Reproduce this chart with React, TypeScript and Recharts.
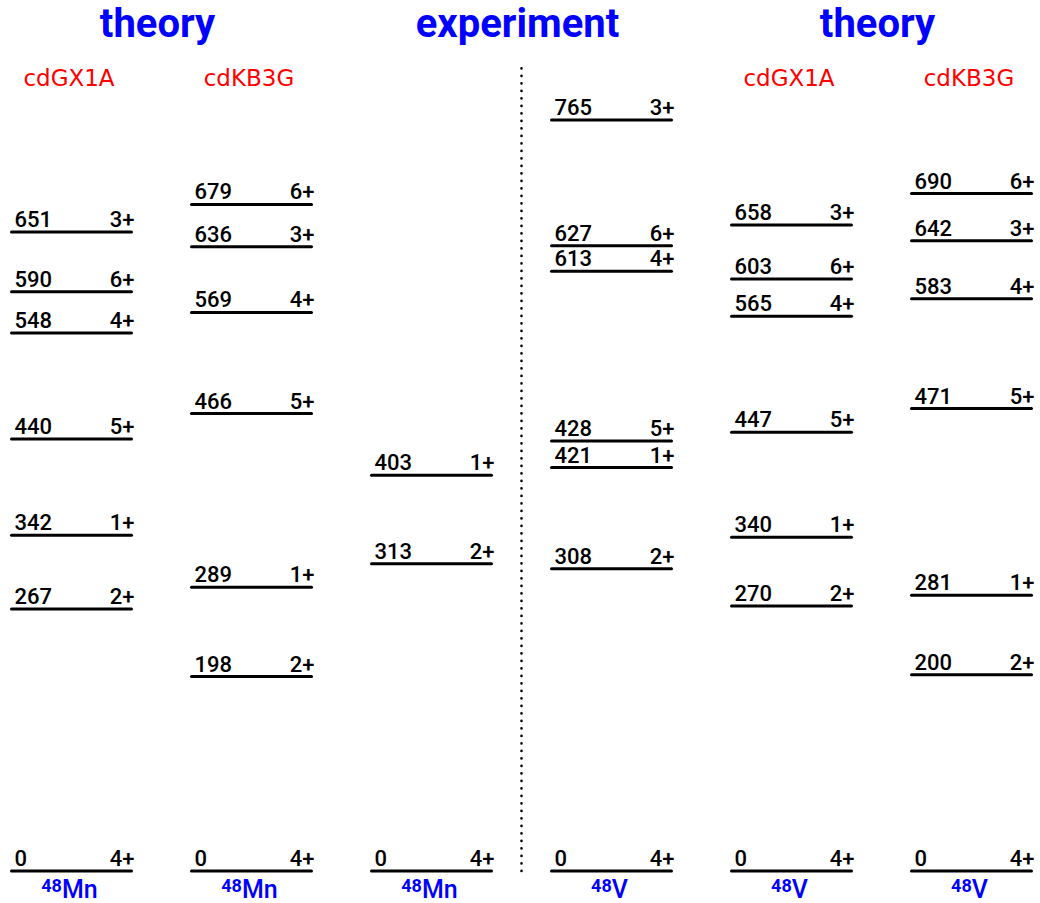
import { ScatterChart, Scatter, XAxis, YAxis, ReferenceLine } from "recharts"

// column index 0..5, left to right
const columns = [0, 1, 2, 3, 4, 5]
const isotopeMass = ["48", "48", "48", "48", "48", "48"]
const isotopeName = ["Mn", "Mn", "Mn", "V", "V", "V"]
const modelCols = [0, 1, 4, 5]
const modelNames = ["cdGX1A", "cdKB3G", "cdGX1A", "cdKB3G"]

const groupPos = [0.5, 2.5, 4.5]
const groupTitles = ["theory", "experiment", "theory"]

// 48Mn, cdGX1A
const mnGxEnergy = [0, 267, 342, 440, 548, 590, 651]
const mnGxSpin = ["4+", "2+", "1+", "5+", "4+", "6+", "3+"]
// 48Mn, cdKB3G
const mnKbEnergy = [0, 198, 289, 466, 569, 636, 679]
const mnKbSpin = ["4+", "2+", "1+", "5+", "4+", "3+", "6+"]
// 48Mn, experiment
const mnExpEnergy = [0, 313, 403]
const mnExpSpin = ["4+", "2+", "1+"]
// 48V, experiment (close pairs are drawn pushed apart)
const vExpEnergy = [0, 308, 421, 428, 613, 627, 765]
const vExpDrawn = [0, 308, 411, 438, 611, 637, 765]
const vExpSpin = ["4+", "2+", "1+", "5+", "4+", "6+", "3+"]
// 48V, cdGX1A
const vGxEnergy = [0, 270, 340, 447, 565, 603, 658]
const vGxSpin = ["4+", "2+", "1+", "5+", "4+", "6+", "3+"]
// 48V, cdKB3G
const vKbEnergy = [0, 200, 281, 471, 583, 642, 690]
const vKbSpin = ["4+", "2+", "1+", "5+", "4+", "3+", "6+"]

const schemes = [
  { energy: mnGxEnergy, drawn: mnGxEnergy, spin: mnGxSpin },
  { energy: mnKbEnergy, drawn: mnKbEnergy, spin: mnKbSpin },
  { energy: mnExpEnergy, drawn: mnExpEnergy, spin: mnExpSpin },
  { energy: vExpEnergy, drawn: vExpDrawn, spin: vExpSpin },
  { energy: vGxEnergy, drawn: vGxEnergy, spin: vGxSpin },
  { energy: vKbEnergy, drawn: vKbEnergy, spin: vKbSpin },
]

const levels = schemes.flatMap((s, col) =>
  s.energy.map((e, i) => ({ col, y: s.drawn[i], energy: e, spin: s.spin[i] }))
)

const FONT = "Roboto, 'DejaVu Sans', sans-serif"

function Level(props: any) {
  const { cx, cy, payload } = props
  if (cx == null || cy == null) return null
  return (
    <g>
      <line x1={cx - 60} x2={cx + 60} y1={cy} y2={cy} stroke="#000" strokeWidth={3} strokeLinecap="round" />
      <text x={cx - 57} y={cy - 5} fontFamily={FONT} fontSize={22} fontWeight={500} fill="#000">
        {payload.energy}
      </text>
      <text x={cx + 63} y={cy - 5} textAnchor="end" fontFamily={FONT} fontSize={22} fontWeight={500} fill="#000">
        {payload.spin}
      </text>
    </g>
  )
}

function TitleLabel(props: any) {
  const { viewBox, text } = props
  if (!viewBox) return null
  return (
    <text x={viewBox.x - 4} y={viewBox.y - 29} textAnchor="middle" fontFamily={FONT} fontSize={40} fontWeight={700} fill="#0000ff">
      {text}
    </text>
  )
}

function ModelLabel(props: any) {
  const { viewBox, text } = props
  if (!viewBox) return null
  return (
    <text x={viewBox.x - 2.5} y={viewBox.y + 20} textAnchor="middle" fontFamily="'DejaVu Sans', sans-serif" fontSize={23} fill="#ff0000">
      {text}
    </text>
  )
}

function BottomTick(props: any) {
  const { x, y, payload } = props
  const v = payload.value as number
  return (
    <text x={x - 2} y={y + 25} textAnchor="middle" fontFamily={FONT} fill="#0000ff">
      <tspan fontSize={18} fontWeight={700} dy={-6}>{isotopeMass[v]}</tspan>
      <tspan fontSize={25} fontWeight={500} dy={6}>{isotopeName[v]}</tspan>
    </text>
  )
}

export default function App() {
  return (
    <div style={{ position: "absolute", left: 0, top: 0, background: "#fff" }}>
      <ScatterChart width={1040} height={903} margin={{ top: 66, right: 68.5, left: 71.5, bottom: 0 }}>
        <XAxis
          type="number"
          dataKey="col"
          domain={[0, 5]}
          ticks={columns}
          interval={0}
          height={32}
          axisLine={false}
          tickLine={false}
          tickSize={0}
          tick={(p: any) => <BottomTick {...p} />}
        />
        <YAxis type="number" dataKey="y" domain={[0, 820]} hide />
        {groupPos.map((pos, i) => (
          <ReferenceLine key={"t" + i} x={pos} stroke="none" label={<TitleLabel text={groupTitles[i]} />} />
        ))}
        {modelCols.map((c, i) => (
          <ReferenceLine key={"m" + i} x={c} stroke="none" label={<ModelLabel text={modelNames[i]} />} />
        ))}
        <ReferenceLine
          x={2.5}
          stroke="#000"
          strokeWidth={2.6}
          strokeDasharray="0.1 7.4"
          strokeLinecap="round"
        />
        <Scatter data={levels} isAnimationActive={false} shape={(p: any) => <Level {...p} />} />
      </ScatterChart>
    </div>
  )
}
